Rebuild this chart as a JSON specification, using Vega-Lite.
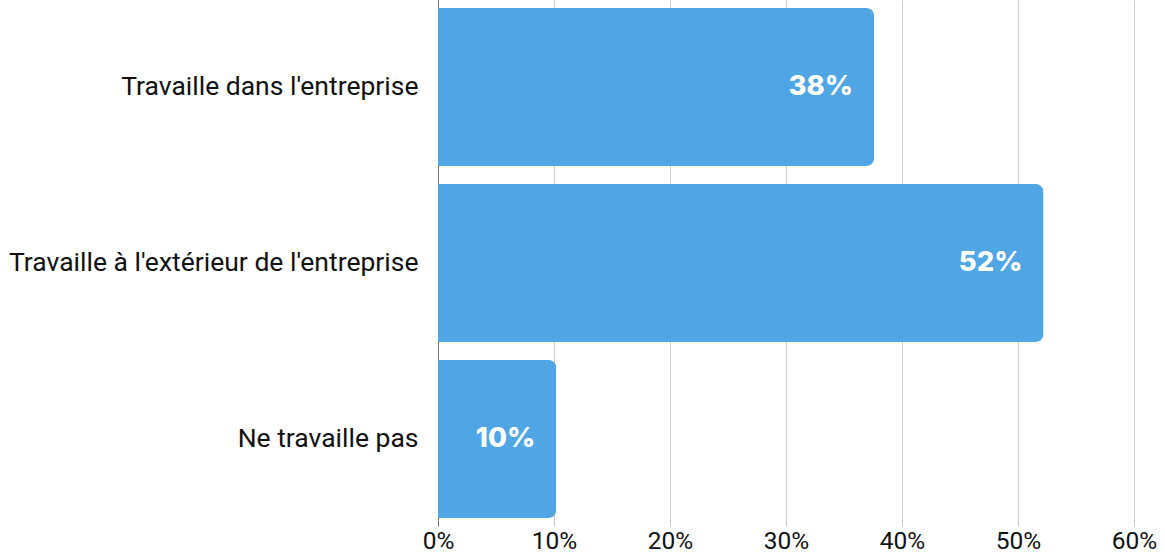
{
  "$schema": "https://vega.github.io/schema/vega-lite/v6.json",
  "width": 696,
  "height": 526,
  "autosize": {"type": "none"},
  "padding": {"left": 438, "top": 0, "right": 31, "bottom": 29},
  "background": "white",
  "config": {"view": {"stroke": null}},
  "data": {
    "values": [
      {"categorie": "Travaille dans l'entreprise", "part": 0.376},
      {"categorie": "Travaille à l'extérieur de l'entreprise", "part": 0.522},
      {"categorie": "Ne travaille pas", "part": 0.102}
    ]
  },
  "encoding": {
    "y": {
      "field": "categorie",
      "type": "nominal",
      "sort": null,
      "scale": {"paddingInner": 0.102, "paddingOuter": 0.0455},
      "axis": {
        "title": null,
        "ticks": false,
        "domain": true,
        "domainColor": "#777777",
        "domainWidth": 1,
        "labelFont": "Roboto",
        "labelFontSize": 26.5,
        "labelColor": "#111111",
        "labelPadding": 20,
        "labelLimit": 600
      }
    },
    "x": {
      "field": "part",
      "type": "quantitative",
      "scale": {"domain": [0, 0.6], "nice": false},
      "axis": {
        "title": null,
        "format": ".0%",
        "values": [0, 0.1, 0.2, 0.3, 0.4, 0.5, 0.6],
        "grid": true,
        "gridColor": "#c8c8c8",
        "gridWidth": 1,
        "domain": false,
        "ticks": false,
        "labelFont": "Roboto",
        "labelFontSize": 24.5,
        "labelColor": "#111111",
        "labelPadding": 3,
        "labelFlush": false
      }
    }
  },
  "layer": [
    {
      "mark": {"type": "bar", "color": "#50A5E5", "cornerRadiusEnd": 8}
    },
    {
      "mark": {
        "type": "text",
        "align": "right",
        "baseline": "middle",
        "dx": -21,
        "font": "Inter",
        "fontWeight": 800,
        "fontSize": 27.5,
        "color": "white"
      },
      "encoding": {
        "text": {"field": "part", "type": "quantitative", "format": ".0%"}
      }
    }
  ]
}
